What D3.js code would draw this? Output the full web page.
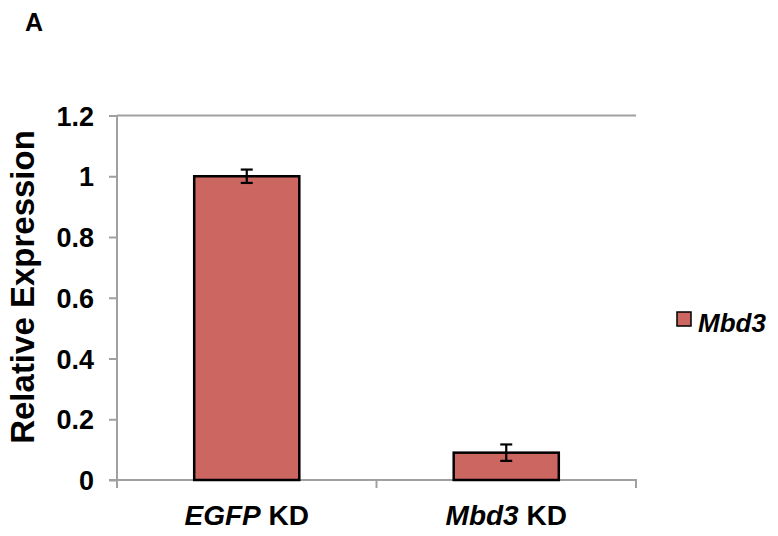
<!DOCTYPE html>
<html>
    <head>
        <meta charset="utf-8">
        <title>Mbd3 relative expression</title>
        <script type="text/javascript" src="https://cdn.jsdelivr.net/npm/d3@7"></script>
        <style>
            body { margin: 0; background: #fff; }
            svg text { font-family: "Liberation Sans", Arial, sans-serif; font-weight: bold; }
        </style>
    </head>

    <body>
        <svg></svg>
    </body>

    <script type="text/javascript">
        const WIDTH = 778;
        const HEIGHT = 536;

        // data
        const categories = ["EGFP", "Mbd3"];
        const values = [1.0, 0.09];
        const errors = [0.022, 0.027];
        const yTicks = [0, 0.2, 0.4, 0.6, 0.8, 1, 1.2];
        const seriesName = "Mbd3";

        const AXIS_COLOR = "#a0a0a0";
        const BAR_COLOR = "#cc6661";

        var svg = d3.select("svg")
            .attr("width", WIDTH)
            .attr("height", HEIGHT);

        // plot box (note: "top" is taken by window.top)
        const plotLeft = 117, plotRight = 636, plotTop = 115.5, plotBottom = 480;

        var y = d3.scaleLinear().domain([0, 1.2]).range([plotBottom, plotTop]);
        var x = d3.scaleBand().domain(categories).range([plotLeft, plotRight])
            .paddingInner(0.595).paddingOuter(0.2975);

        // panel letter
        svg.append("text")
            .attr("x", 25).attr("y", 31)
            .style("font-size", "25px")
            .text("A");

        // top line at 1.2
        svg.append("line")
            .attr("x1", plotLeft).attr("x2", plotRight)
            .attr("y1", y(1.2)).attr("y2", y(1.2))
            .attr("stroke", AXIS_COLOR).attr("stroke-width", 2);

        // y axis
        var yAxis = svg.append("g")
            .attr("transform", "translate(" + plotLeft + ",0)")
            .call(d3.axisLeft(y).tickValues(yTicks).tickSize(8).tickSizeOuter(0).tickPadding(15)
                .tickFormat(function(d) { return d3.format("~g")(d); }));
        yAxis.select(".domain").remove();
        yAxis.selectAll(".tick line").attr("stroke", AXIS_COLOR).attr("stroke-width", 2);
        yAxis.selectAll(".tick text")
            .attr("fill", "#000")
            .attr("dy", "0.36em")
            .style("font-size", "27px")
            .style("font-family", "'Liberation Sans', Arial, sans-serif")
            .style("font-weight", "bold");
        svg.append("line")
            .attr("x1", plotLeft).attr("x2", plotLeft)
            .attr("y1", plotTop).attr("y2", plotBottom + 8)
            .attr("stroke", AXIS_COLOR).attr("stroke-width", 2);

        // x axis
        svg.append("line")
            .attr("x1", plotLeft - 8).attr("x2", plotRight + 1)
            .attr("y1", plotBottom).attr("y2", plotBottom)
            .attr("stroke", AXIS_COLOR).attr("stroke-width", 2);
        var bounds = categories.map(function(c) {
            return x(c) + x.bandwidth() / 2 + x.step() / 2;
        });
        svg.selectAll(".xtick")
            .data(bounds)
            .enter()
            .append("line")
            .attr("class", "xtick")
            .attr("x1", function(d) { return d; })
            .attr("x2", function(d) { return d; })
            .attr("y1", plotBottom)
            .attr("y2", plotBottom + 8)
            .attr("stroke", AXIS_COLOR).attr("stroke-width", 2);

        // bars
        svg.selectAll(".bar")
            .data(categories)
            .enter()
            .append("rect")
            .attr("class", "bar")
            .attr("x", function(d) { return x(d); })
            .attr("y", function(d, i) { return y(values[i]); })
            .attr("width", x.bandwidth())
            .attr("height", function(d, i) { return plotBottom - y(values[i]); })
            .attr("fill", BAR_COLOR)
            .attr("stroke", "#000")
            .attr("stroke-width", 2.5);

        // error bars
        var err = svg.selectAll(".err")
            .data(categories)
            .enter()
            .append("g")
            .attr("class", "err")
            .attr("stroke", "#000")
            .attr("stroke-width", 2.2);
        err.append("line")
            .attr("x1", function(d) { return x(d) + x.bandwidth() / 2; })
            .attr("x2", function(d) { return x(d) + x.bandwidth() / 2; })
            .attr("y1", function(d, i) { return y(values[i] - errors[i]); })
            .attr("y2", function(d, i) { return y(values[i] + errors[i]); });
        [-1, 1].forEach(function(s) {
            err.append("line")
                .attr("x1", function(d) { return x(d) + x.bandwidth() / 2 - 6; })
                .attr("x2", function(d) { return x(d) + x.bandwidth() / 2 + 6; })
                .attr("y1", function(d, i) { return y(values[i] + s * errors[i]); })
                .attr("y2", function(d, i) { return y(values[i] + s * errors[i]); });
        });

        // x labels: gene italic, "KD" upright
        var xl = svg.selectAll(".xlabel")
            .data(categories)
            .enter()
            .append("text")
            .attr("class", "xlabel")
            .attr("x", function(d) { return x(d) + x.bandwidth() / 2; })
            .attr("y", 525)
            .attr("text-anchor", "middle")
            .style("font-size", "28px");
        xl.append("tspan").style("font-style", "italic").text(function(d) { return d; });
        xl.append("tspan").text(" KD");

        // y title
        svg.append("text")
            .attr("transform", "translate(34,287) rotate(-90)")
            .attr("text-anchor", "middle")
            .style("font-size", "33px")
            .text("Relative Expression");

        // legend
        svg.append("rect")
            .attr("x", 677).attr("y", 312)
            .attr("width", 14).attr("height", 14)
            .attr("fill", BAR_COLOR)
            .attr("stroke", "#000").attr("stroke-width", 1.5);
        svg.append("text")
            .attr("x", 698).attr("y", 332)
            .style("font-size", "26px")
            .style("font-style", "italic")
            .text(seriesName);
    </script>
</html>
